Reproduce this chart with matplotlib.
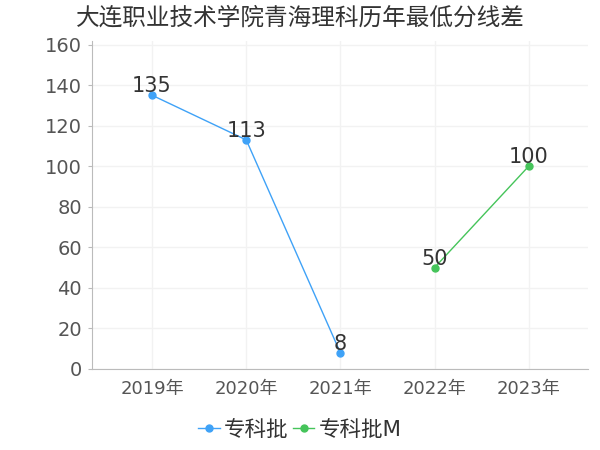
import matplotlib.pyplot as plt

plt.rcParams['font.family'] = ['DejaVu Sans', 'Noto Sans CJK SC']

years = ['2019年', '2020年', '2021年', '2022年', '2023年']
zk_idx = [0, 1, 2]
zk_vals = [135, 113, 8]
zkm_idx = [3, 4]
zkm_vals = [50, 100]
yticks = [0, 20, 40, 60, 80, 100, 120, 140, 160]

blue = '#3fa2f7'
green = '#45c45a'

fig = plt.figure(figsize=(6, 4.5), dpi=100)
ax = fig.add_axes([0.153, 0.18, 0.827, 0.73])

ax.plot(zk_idx, zk_vals, color=blue, linewidth=1, marker='o', markersize=5, label='专科批')
ax.plot(zkm_idx, zkm_vals, color=green, linewidth=1, marker='o', markersize=5, label='专科批M')

# value labels sit just above the points
for x, v in zip(zk_idx + zkm_idx, zk_vals + zkm_vals):
    ax.text(x, v + 1.5, str(v), ha='center', va='baseline', fontsize=15, color='#333333')

ax.set_xlim(-0.64, 4.63)
ax.set_ylim(0, 162)
ax.set_xticks(range(len(years)))
ax.set_xticklabels(years, fontsize=13, color='#555555')
ax.set_yticks(yticks)
ax.set_yticklabels([str(t) for t in yticks], fontsize=14, color='#555555')
ax.tick_params(axis='x', length=0, pad=8)
ax.tick_params(axis='y', length=3, color='#bbbbbb', pad=4)

ax.grid(True, color='#f2f2f2', linewidth=1)
ax.set_axisbelow(True)
for s in ['top', 'right']:
    ax.spines[s].set_visible(False)
for s in ['left', 'bottom']:
    ax.spines[s].set_color('#bbbbbb')

fig.text(0.5, 0.96, '大连职业技术学院青海理科历年最低分线差', fontsize=17, color='#333333',
         ha='center', va='center')
fig.legend(loc='center', bbox_to_anchor=(0.5, 0.045), ncol=2, frameon=False,
           fontsize=15.5, handlelength=1.0, handletextpad=0.2, columnspacing=0.2,
           labelcolor='#333333')

plt.savefig('out.png', dpi=100)
